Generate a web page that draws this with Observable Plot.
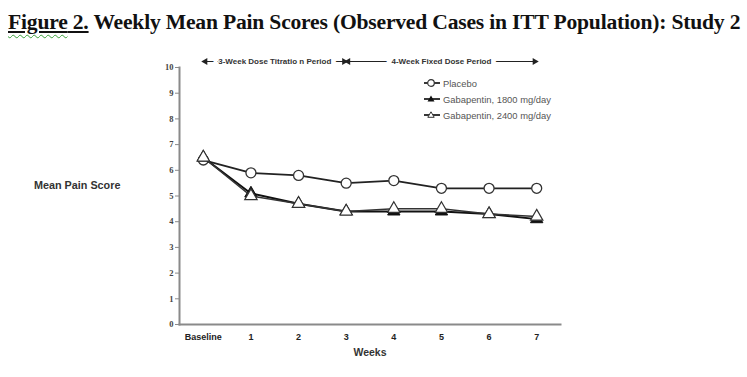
<!DOCTYPE html>
<html>
<head>
<meta charset="utf-8">
<script src="https://cdn.jsdelivr.net/npm/d3@7"></script>
<script src="https://cdn.jsdelivr.net/npm/@observablehq/plot@0.6"></script>
<style>
  html, body { margin: 0; padding: 0; background: #fff; }
  #page { position: relative; width: 747px; height: 377px; overflow: hidden; background: #fff; }
  #title { position: absolute; left: 8px; top: 10px; font-family: "Liberation Serif", "Times New Roman", serif; font-weight: bold; font-size: 21.6px; color: #111; white-space: nowrap; letter-spacing: -0.2px; }
  #title .fig { text-decoration: underline; text-decoration-color: #111; text-underline-offset: 2px; }
  #title .spell { text-decoration: underline wavy #3aa03a; text-decoration-thickness: 1px; text-underline-offset: 5px; }
  #chart { position: absolute; left: 0; top: 45px; }
  #ylabel { position: absolute; left: 34px; top: 179px; font-family: "Liberation Sans", Arial, sans-serif; font-weight: bold; font-size: 10.8px; color: #333; white-space: nowrap; }
  #legend { position: absolute; left: 423px; top: 75px; font-family: "Liberation Sans", Arial, sans-serif; font-size: 9.4px; color: #555; }
  #legend .row { display: flex; align-items: center; height: 16px; }
  #legend svg { margin-right: 2px; }
</style>
</head>
<body>
<div id="page">
  <div id="title"><span class="fig"><span class="spell">Figure</span> 2.</span> Weekly Mean Pain Scores (Observed Cases in ITT Population): Study 2</div>
  <div id="chart"></div>
  <div id="ylabel">Mean Pain Score</div>
  <div id="legend"></div>
</div>
<script>
// ---- data ----
const weeks = ["Baseline", "1", "2", "3", "4", "5", "6", "7"];
const placebo  = [6.4, 5.9, 5.8, 5.5, 5.6, 5.3, 5.3, 5.3];
const gaba1800 = [6.5, 5.1, 4.7, 4.4, 4.4, 4.4, 4.3, 4.1];
const gaba2400 = [6.5, 5.0, 4.7, 4.4, 4.5, 4.5, 4.3, 4.2];
const seriesNames = ["Placebo", "Gabapentin, 1800 mg/day", "Gabapentin, 2400 mg/day"];
const yTicks = [0, 1, 2, 3, 4, 5, 6, 7, 8, 9, 10];
const periodLabels = ["3-Week Dose Titratio n Period", "4-Week Fixed Dose Period"];
const periodStart = ["Baseline", "3"];
const periodEnd = ["3", "7"];
const xLabel = "Weeks";

// ---- build tables ----
const idx = w => weeks.indexOf(w);
const rows = (vals, name) => vals.map((v, i) => ({ week: i, value: v, series: name }));
const pData = rows(placebo, seriesNames[0]);
const g18Data = rows(gaba1800, seriesNames[1]);
const g24Data = rows(gaba2400, seriesNames[2]);
const periods = periodLabels.map((label, i) => ({
  label, s: idx(periodStart[i]), e: idx(periodEnd[i]), mid: (idx(periodStart[i]) + idx(periodEnd[i])) / 2
}));
const yTop = d3.max(yTicks);

const ink = "#222";
const axisGray = "#8a8a8a";

const chart = Plot.plot({
  width: 747,
  height: 332,
  marginLeft: 179,
  marginRight: 187,
  marginTop: 22,
  marginBottom: 53,
  style: { background: "transparent", overflow: "visible" },
  x: { domain: [-0.5, weeks.length - 0.5] },
  y: { domain: [0, yTop] },
  marks: [
    Plot.frame({ anchor: "left", stroke: axisGray, strokeWidth: 2 }),
    Plot.frame({ anchor: "bottom", stroke: axisGray, strokeWidth: 2 }),
    Plot.axisY({ ticks: yTicks, tickSize: 4, tickPadding: 2, stroke: axisGray, fill: "#444",
      fontFamily: "Liberation Serif, serif", fontWeight: "bold", fontSize: 8.5, label: null }),
    Plot.axisX({ ticks: weeks.map((w, i) => i), tickFormat: i => weeks[i], tickSize: 0, tickPadding: 9,
      fill: "#222", fontFamily: "Liberation Sans, Arial, sans-serif", fontWeight: "bold", fontSize: 9,
      label: null }),
    Plot.text([xLabel], { frameAnchor: "bottom", dy: 31, fill: "#333",
      fontFamily: "Liberation Sans, Arial, sans-serif", fontWeight: "bold", fontSize: 10.5 }),
    // period annotations
    Plot.link(periods, { x1: "s", x2: "e", y1: yTop, y2: yTop, dy: -6, stroke: ink, strokeWidth: 1, clip: false }),
    Plot.text(periods, { x: "mid", y: yTop, dy: -6, text: "label", fill: "#333", stroke: "white", strokeWidth: 10,
      fontFamily: "Liberation Sans, Arial, sans-serif", fontWeight: "bold", fontSize: 8 }),
    Plot.dot(periods, { x: "s", y: yTop, dy: -6, symbol: "triangle", rotate: -90, r: 2.6, fill: ink, stroke: "none", dx: 2 }),
    Plot.dot(periods, { x: "e", y: yTop, dy: -6, symbol: "triangle", rotate: 90, r: 2.6, fill: ink, stroke: "none", dx: -2 }),
    // series
    Plot.line(pData, { x: "week", y: "value", stroke: ink, strokeWidth: 1.8 }),
    Plot.dot(pData, { x: "week", y: "value", r: 5, fill: "white", stroke: "#333", strokeWidth: 1.3 }),
    Plot.line(g18Data, { x: "week", y: "value", stroke: "#111", strokeWidth: 2 }),
    Plot.dot(g18Data, { x: "week", y: "value", symbol: "triangle", r: 4.6, fill: "#111", stroke: "#111", strokeWidth: 1 }),
    Plot.line(g24Data, { x: "week", y: "value", stroke: "#333", strokeWidth: 1.5 }),
    Plot.dot(g24Data, { x: "week", y: "value", symbol: "triangle", r: 4.6, fill: "white", stroke: "#333", strokeWidth: 1.2 })
  ]
});
document.getElementById("chart").appendChild(chart);

// ---- legend (HTML) ----
const symbolsSvg = [
  '<circle cx="8" cy="5" r="3.3" fill="white" stroke="#333" stroke-width="1.2"/>',
  '<path d="M8,1.5 L11.5,7.5 L4.5,7.5 Z" fill="#111"/>',
  '<path d="M8,1.8 L11.2,7.3 L4.8,7.3 Z" fill="white" stroke="#333" stroke-width="1"/>'
];
const legend = document.getElementById("legend");
seriesNames.forEach((name, i) => {
  const row = document.createElement("div");
  row.className = "row";
  row.innerHTML = '<svg width="18" height="10"><line x1="1" y1="5" x2="17" y2="5" stroke="#222" stroke-width="1.8"/>' +
    symbolsSvg[i] + '</svg><span>' + name + '</span>';
  legend.appendChild(row);
});
</script>
</body>
</html>
